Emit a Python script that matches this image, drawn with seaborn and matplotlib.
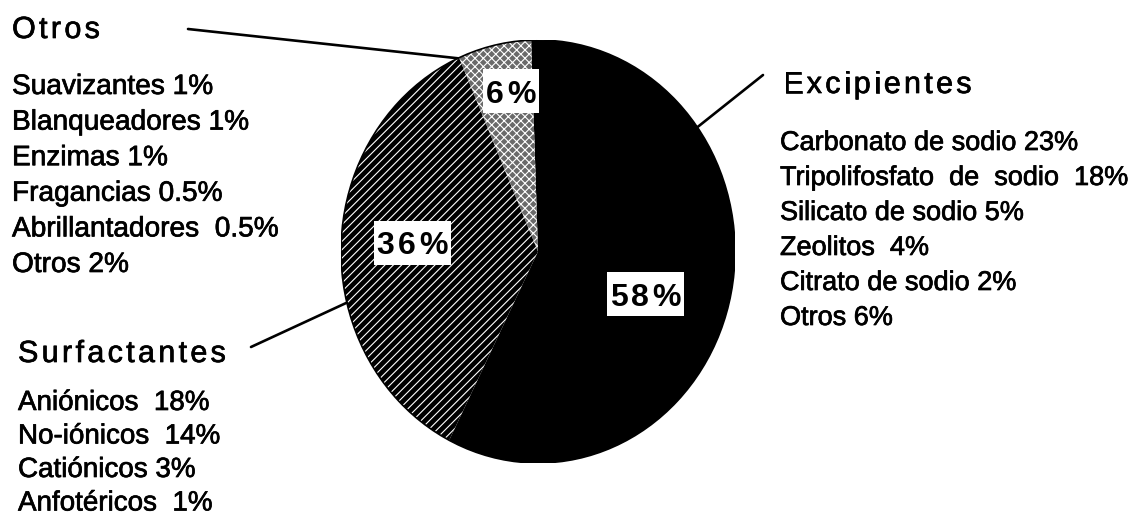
import numpy as np
import matplotlib
matplotlib.use("Agg")
import matplotlib.pyplot as plt
import matplotlib.patheffects as pe
import seaborn as sns
from matplotlib.font_manager import FontProperties
from matplotlib.patches import Rectangle, Ellipse
from matplotlib.lines import Line2D

# ---------------- data ----------------
groups = ["Excipientes", "Surfactantes", "Otros"]
shares = [58, 36, 6]
pct_labels = ["58%", "36%", "6%"]

otros_items = ["Suavizantes 1%", "Blanqueadores 1%", "Enzimas 1%",
               "Fragancias 0.5%", "Abrillantadores  0.5%", "Otros 2%"]
excip_items = ["Carbonato de sodio 23%", "Tripolifosfato  de  sodio  18%",
               "Silicato de sodio 5%", "Zeolitos  4%", "Citrato de sodio 2%",
               "Otros 6%"]
surf_items = ["Aniónicos  18%", "No-iónicos  14%", "Catiónicos 3%",
              "Anfotéricos  1%"]

# ---------------- style ----------------
W, H = 1140, 516
sns.set_theme(style="white")
plt.rcParams["font.family"] = ["Liberation Sans", "DejaVu Sans"]
plt.rcParams["hatch.linewidth"] = 0.8

fig = plt.figure(figsize=(W / 100, H / 100), dpi=100)
fig.patch.set_facecolor("white")
ink = [pe.withStroke(linewidth=0.5, foreground="black")]


def fx(px):
    return px / W


def fy(py):
    return 1 - py / H


# pie (slightly elliptical like the scan)
cx, cy, rx, ry = 538, 251.5, 197, 211.5
ax = fig.add_axes([(cx - rx) / W, 1 - (cy + ry) / H, 2 * rx / W, 2 * ry / H])
wedges, _ = ax.pie(shares, startangle=92, counterclock=False, radius=1,
                   colors=["black", "black", "#6a6a6a"],
                   wedgeprops=dict(linewidth=0))
wedges[1].set_hatch("////")
wedges[1].set_edgecolor("white")
wedges[1].set_linewidth(0)
wedges[2].set_hatch("xxxx")
wedges[2].set_edgecolor("white")
wedges[2].set_linewidth(0)
ax.add_patch(Ellipse((0, 0), 2, 2, fill=False, ec="black", lw=1.2))
ax.set_aspect("auto")
ax.set_xlim(-1, 1)
ax.set_ylim(-1, 1)
ax.axis("off")

renderer = fig.canvas.get_renderer()


def spaced(x, y, s, size, spacing, weight="normal", draw=True):
    fp = FontProperties(family=["Liberation Sans"], size=size, weight=weight)
    right = x
    pos = []
    for k, ch in enumerate(s):
        w_pre = renderer.get_text_width_height_descent(s[:k + 1], fp, False)[0]
        w_ch = renderer.get_text_width_height_descent(ch, fp, False)[0]
        xk = x + (w_pre - w_ch) + k * spacing
        pos.append(xk)
        right = xk + w_ch
    if draw:
        for xk, ch in zip(pos, s):
            fig.text(fx(xk), fy(y), ch, fontproperties=fp, ha="left",
                     va="baseline", color="black", zorder=4,
                     path_effects=ink if weight == "normal" else None)
    return right - x


# ---------------- percentage labels ----------------
label_dist = [0.58, 0.64, 0.77]
label_turn = [-8, -2, -2.5]
pct_size = 23
cap = pct_size * 100 / 72 * 0.716
for w, lab, d, t in zip(wedges, pct_labels, label_dist, label_turn):
    mid = np.deg2rad((w.theta1 + w.theta2) / 2 + t)
    dx, dy = ax.transData.transform((d * np.cos(mid), d * np.sin(mid)))
    px, py = dx, H - dy
    width = spaced(0, 0, lab, pct_size, 3.5, weight="bold", draw=False)
    left = px - width / 2
    fig.add_artist(Rectangle((fx(left - 3), fy(py + 22)), (width + 6) / W, 44 / H,
                             transform=fig.transFigure, fc="white", ec="none",
                             zorder=2))
    spaced(left, py + cap / 2, lab, pct_size, 3.5, weight="bold")

# ---------------- headers and lists ----------------
head_size = 22
spaced(12, 38, groups[2], head_size, 3.3)
spaced(783, 93, groups[0], head_size, 3.3)
spaced(18, 362, groups[1], head_size, 3.3)

for i, s in enumerate(otros_items):
    fig.text(fx(12), fy(94 + i * 35.6), s, fontsize=20.2, ha="left",
             va="baseline", color="black", path_effects=ink)
for i, s in enumerate(excip_items):
    fig.text(fx(780), fy(150 + i * 35), s, fontsize=19.5, ha="left",
             va="baseline", color="black", path_effects=ink)
for i, s in enumerate(surf_items):
    fig.text(fx(18), fy(410 + i * 33.5), s, fontsize=20, ha="left",
             va="baseline", color="black", path_effects=ink)

# ---------------- leader lines ----------------
def edge_px(angle_deg):
    a = np.deg2rad(angle_deg)
    dx, dy = ax.transData.transform((np.cos(a), np.sin(a)))
    return dx, H - dy


leaders = [(114, (188, 29)), (36, (763, 75)), (194, (251, 347))]
for ang, (ox, oy) in leaders:
    ex, ey = edge_px(ang)
    fig.add_artist(Line2D([fx(ox), fx(ex)], [fy(oy), fy(ey)],
                          transform=fig.transFigure, color="black", lw=1.9,
                          solid_capstyle="round", zorder=3))

fig.savefig("out.png", dpi=100, facecolor="white")
